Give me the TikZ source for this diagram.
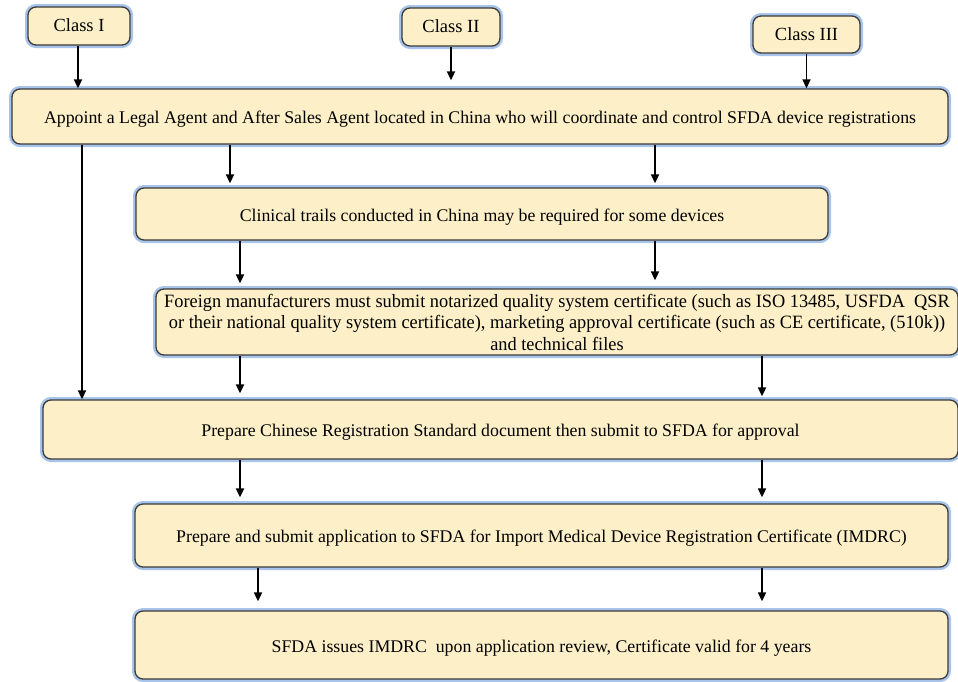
\documentclass[tikz,border=0pt]{standalone}
\usepackage{fontspec}
\setmainfont{Liberation Serif}
\usetikzlibrary{arrows.meta}
\definecolor{boxfill}{HTML}{FDF0C8}
\definecolor{boxline}{HTML}{3A3A3A}
\definecolor{glow}{HTML}{A9C4EA}
\tikzset{
  flowbox/.style={draw=boxline, line width=1.3pt, fill=boxfill, rounded corners=8pt,
    inner sep=0pt, align=center, font=\fontsize{17.8}{21.5}\selectfont,
    preaction={draw=glow, line width=6pt, rounded corners=8pt}},
  oneline/.style={text height=16pt, text depth=2pt},
  classbox/.style={flowbox, text height=14pt, text depth=3pt, font=\fontsize{18.5}{21.5}\selectfont},
  arr/.style={-{Triangle[length=9pt,width=8pt]}, line width=1.7pt, black},
}
\begin{document}
\begin{tikzpicture}[x=1pt,y=-1pt]
\useasboundingbox (0,0) rectangle (958,681);
% class boxes
\node[classbox, minimum width=102pt, minimum height=38pt] (c1) at (79,26) {Class I};
\node[classbox, minimum width=98pt, minimum height=38pt] (c2) at (451,27) {Class II};
\node[classbox, minimum width=107pt, minimum height=37pt] (c3) at (806.5,34.5) {Class III};
% main boxes
\node[flowbox, oneline, minimum width=936pt, minimum height=55pt] (appoint) at (480,116.5)
  {Appoint a Legal Agent and After Sales Agent located in China who will coordinate and control SFDA device registrations};
\node[flowbox, oneline, minimum width=692pt, minimum height=52pt] (clin) at (482,214)
  {Clinical trails conducted in China may be required for some devices};
\node[flowbox, minimum width=802pt, minimum height=66pt, font=\fontsize{18.8}{21.5}\addfontfeature{FakeStretch=0.975}] (foreign) at (557,322)
  {Foreign manufacturers must submit notarized quality system certificate (such as ISO 13485, USFDA\ \ QSR\\
   or their national quality system certificate), marketing approval certificate (such as CE certificate, (510k))\\
   and technical files};
\node[flowbox, oneline, minimum width=915pt, minimum height=59pt] (prep) at (500.5,429.5)
  {Prepare Chinese Registration Standard document then submit to SFDA for approval};
\node[flowbox, oneline, minimum width=813pt, minimum height=63pt] (imdrc) at (541.5,535.5)
  {Prepare and submit application to SFDA for Import Medical Device Registration Certificate (IMDRC)};
\node[flowbox, oneline, minimum width=813pt, minimum height=68pt] (issue) at (541.5,645)
  {SFDA issues IMDRC\ \ upon application review, Certificate valid for 4 years};
% arrows
\draw[arr] (c1.south -| 78,0) -- (appoint.north -| 78,0);
\draw[arr, shorten >=8pt] (c2.south) -- (appoint.north -| c2.south);
\draw[arr] (c3.south) -- (appoint.north -| c3.south);
\draw[arr, shorten >=4pt] (appoint.south -| 230,0) -- (clin.north -| 230,0);
\draw[arr, shorten >=4pt] (appoint.south -| 655,0) -- (clin.north -| 655,0);
\draw[arr] (appoint.south -| 82,0) -- (prep.north -| 82,0);
\draw[arr, shorten >=5pt] (clin.south -| 240,0) -- (foreign.north -| 240,0);
\draw[arr, shorten >=8pt] (clin.south -| 655,0) -- (foreign.north -| 655,0);
\draw[arr, shorten >=6pt] (foreign.south -| 240,0) -- (prep.north -| 240,0);
\draw[arr, shorten >=3pt] (foreign.south -| 762,0) -- (prep.north -| 762,0);
\draw[arr, shorten >=6pt] (prep.south -| 240,0) -- (imdrc.north -| 240,0);
\draw[arr, shorten >=6pt] (prep.south -| 762,0) -- (imdrc.north -| 762,0);
\draw[arr, shorten >=9pt] (imdrc.south -| 258,0) -- (issue.north -| 258,0);
\draw[arr, shorten >=9pt] (imdrc.south -| 762,0) -- (issue.north -| 762,0);
\end{tikzpicture}
\end{document}
